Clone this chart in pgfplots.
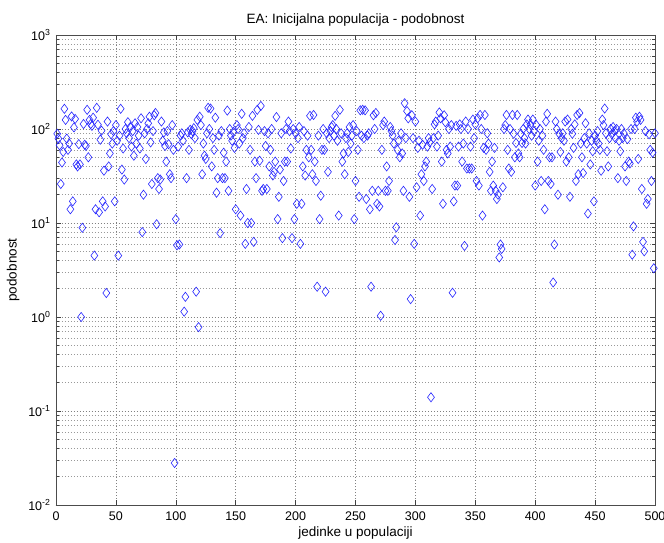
\documentclass[border=0pt]{standalone}
\usepackage{fontspec}
\setmainfont{Liberation Sans}
\usepackage{pgfplots}
\pgfplotsset{compat=1.18}
\usepackage{pgfplotstable}
\pgfplotstableread{
x y
1 89
2 79
3 67
4 26
5 44
6 57
7 164
8 125
9 79
10 60
11 70
12 14
13 136
14 17
15 104
16 128
17 42
18 40
19 69
20 42
21 1.0
22 8.9
23 113
24 68
25 66
26 160
27 50
28 125
29 113
30 108
31 132
32 4.5
33 14
34 168
35 111
36 13
37 77
38 96
39 17
40 36
41 15
42 1.8
43 120
44 40
45 55
46 88
47 70
48 95
49 17
50 110
51 75
52 4.5
53 85
54 164
55 37
56 62
57 29
58 100
59 90
60 118
61 80
62 105
63 65
64 95
65 52
66 115
67 70
68 105
69 85
70 62
71 130
72 8
73 20
74 90
75 48
76 100
77 115
78 135
79 72
80 26
81 95
82 140
83 148
84 9.7
85 30
86 23
87 29
88 120
89 75
90 92
91 66
92 45
93 95
94 69
95 33
96 30
97 110
98 60
99 0.028
100 11
101 5.8
102 65
103 5.9
104 85
105 90
106 75
107 1.14
108 1.64
109 30
110 92
111 60
112 98
113 88
114 95
115 102
116 80
117 1.86
118 125
119 0.78
120 135
121 110
122 33
123 70
124 52
125 48
126 90
127 168
128 100
129 165
130 40
131 80
132 60
133 132
134 21
135 30
136 85
137 7.8
138 95
139 30
140 56
141 30
142 45
143 157
144 22
145 100
146 85
147 75
148 93
149 63
150 14
151 110
152 100
153 70
154 12
155 145
156 80
157 90
158 6
159 23
160 10
161 105
162 60
163 10
164 138
165 6.3
166 45
167 30
168 160
169 98
170 46
171 176
172 22
173 23
174 95
175 66
176 23
177 90
178 40
179 60
180 100
181 32
182 35
183 45
184 134
185 11
186 19
187 37
188 90
189 6.9
190 28
191 45
192 100
193 45
194 120
195 95
196 62
197 6.9
198 100
199 11
200 90
201 16
202 80
203 105
204 6
205 16
206 40
207 95
208 32
209 60
210 85
211 50
212 138
213 60
214 33
215 141
216 45
217 28
218 2.1
219 85
220 11
221 19.5
222 60
223 100
224 60
225 1.86
226 90
227 35
228 80
229 95
230 105
231 110
232 85
233 138
234 100
235 75
236 12
237 160
238 90
239 45
240 55
241 33
242 80
243 90
244 57
245 105
246 70
247 85
248 110
249 11
250 28
251 95
252 60
253 19
254 158
255 85
256 160
257 80
258 158
259 18
260 85
261 90
262 14
263 2.1
264 22
265 140
266 100
267 148
268 16
269 22
270 15
271 1.03
272 60
273 110
274 120
275 22
276 40
277 22
278 28
279 105
280 95
281 85
282 70
283 6.6
284 9
285 60
286 75
287 50
288 90
289 55
290 22
291 188
292 80
293 155
294 130
295 19
296 1.55
297 140
298 80
299 6
300 120
301 24
302 63
303 75
304 12
305 33
306 68
307 28
308 40
309 45
310 65
311 80
312 72
313 0.14
314 23
315 80
316 112
317 120
318 65
319 85
320 150
321 130
322 45
323 16
324 140
325 118
326 60
327 55
328 100
329 65
330 110
331 1.81
332 17
333 25
334 108
335 25
336 65
337 112
338 100
339 45
340 70
341 5.7
342 120
343 38
344 100
345 38
346 65
347 38
348 126
349 80
350 112
351 28
352 130
353 25
354 141
355 100
356 12
357 63
358 141
359 60
360 90
361 70
362 35
363 22
364 45
365 25
366 63
367 22
368 18
369 20
370 4.3
371 5.9
372 5.3
373 24
374 100
375 110
376 141
377 60
378 38
379 100
380 35
381 141
382 89
383 50
384 71
385 141
386 55
387 50
388 89
389 71
390 100
391 80
392 70
393 112
394 126
395 100
396 112
397 85
398 126
399 95
400 25
401 110
402 45
403 75
404 100
405 28
406 85
407 60
408 14
409 120
410 145
411 28
412 50
413 26
414 50
415 2.33
416 5.9
417 120
418 100
419 20
420 89
421 57
422 80
423 90
424 75
425 120
426 45
427 126
428 50
429 19
430 100
431 89
432 63
433 112
434 28
435 141
436 33
437 148
438 70
439 50
440 34
441 80
442 115
443 70
444 12.6
445 90
446 42
447 75
448 58
449 17
450 85
451 75
452 95
453 70
454 60
455 36
456 126
457 110
458 165
459 90
460 58
461 40
462 80
463 100
464 88
465 105
466 95
467 80
468 100
469 30
470 75
471 58
472 100
473 80
474 90
475 40
476 28
477 78
478 45
479 43
480 100
481 4.6
482 9.2
483 100
484 132
485 120
486 48
487 135
488 125
489 23
490 6.3
491 5
492 95
493 16
494 18
495 88
496 60
497 28
498 56
499 3.3
500 90
}\pop
\begin{document}
\begin{tikzpicture}[x=1pt,y=1pt]
\begin{axis}[
  at={(0,0)}, anchor=south west,
  scale only axis, width=599pt, height=470pt,
  ymode=log, xmin=0, xmax=500, ymin=0.01, ymax=1000,
  xtick={0,50,...,500},
  ytick={0.01,0.1,1,10,100,1000},
  yticklabels={10\textsuperscript{-2},10\textsuperscript{-1},10\textsuperscript{0},10\textsuperscript{1},10\textsuperscript{2},10\textsuperscript{3}},
  /pgf/number format/assume math mode=true,
  ticklabel style={font=\fontsize{12.5}{14}\selectfont},
  xticklabel style={yshift=-3pt},
  yticklabel style={xshift=-2pt},
  tick align=inside, major tick length=5pt, minor tick length=3pt,
  tick style={black!75, line width=0.5pt},
  axis line style={black!70, line width=0.6pt},
  grid=both,
  major grid style={dash pattern=on 0.8pt off 2.2pt, black!50, line width=0.55pt},
  minor grid style={dash pattern=on 0.8pt off 2.2pt, black!40, line width=0.5pt},
  xminorgrids=false,
  title={EA: Inicijalna populacija - podobnost},
  title style={font=\fontsize{13.5}{15}\selectfont, yshift=-1pt},
  xlabel={jedinke u populaciji},
  ylabel={podobnost},
  label style={font=\fontsize{13.5}{15}\selectfont},
  xlabel style={yshift=1pt},
  ylabel style={yshift=2pt},
]
\addplot[only marks, mark=diamond, mark size=4.6pt, blue!85!white, mark options={line width=0.6pt, fill=none}] table[x=x,y=y] {\pop};
\end{axis}
\pgfresetboundingbox
\path (-56,-38) rectangle (608,505);
\end{tikzpicture}
\end{document}
